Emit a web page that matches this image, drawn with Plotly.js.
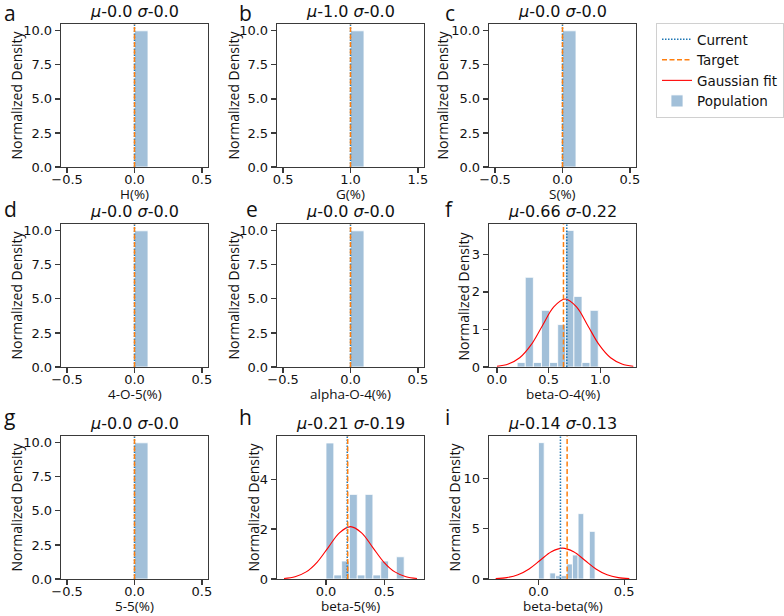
<!DOCTYPE html>
<html>
<head>
<meta charset="utf-8">
<script src="https://cdn.plot.ly/plotly-3.0.1.min.js"></script>
<style>
  html, body { margin: 0; padding: 0; background: #fff; }
  #chart { width: 784px; height: 616px; }
</style>
</head>
<body>
<div id="chart"></div>
<script>
(function () {
  'use strict';

  // パネルごとのデータ
  const panelLetters = ['a', 'b', 'c', 'd', 'e', 'f', 'g', 'h', 'i'];
  const xLabels = ['H(%)', 'G(%)', 'S(%)', '4-O-5(%)', 'alpha-O-4(%)', 'beta-O-4(%)', '5-5(%)', 'beta-5(%)', 'beta-beta(%)'];
  const muText = ['0.0', '1.0', '0.0', '0.0', '0.0', '0.66', '0.0', '0.21', '0.14'];
  const sigmaText = ['0.0', '0.0', '0.0', '0.0', '0.0', '0.22', '0.0', '0.19', '0.13'];

  const currentVals = [0, 1.0, 0, 0, 0, 0.676, 0, 0.182, 0.128];
  const targetVals = [0, 1.0, 0, 0, 0, 0.644, 0, 0.186, 0.167];

  // ヒストグラム: 先頭ビンの左端・ビン幅・密度
  const binStart = [0, 1.0, 0, 0, 0, 0.1955, 0, 0.0, 0.0];
  const binWidth = [0.1, 0.1, 0.1, 0.1, 0.1, 0.0785, 0.1, 0.067, 0.033];
  const densF = [0.12, 2.39, 0.12, 1.51, 0.12, 1.13, 3.64, 1.88, 0.12, 1.51];
  const densH = [5.45, 0.16, 0.72, 3.39, 0.16, 3.39, 0.16, 0.72, 0, 0.89];
  const densI = [13.54, 0, 0.6, 0.33, 0.33, 1.49, 2.38, 6.49, 0, 4.73];
  const binHeights = [[10], [10], [10], [10], [10], densF, [10], densH, densI];

  // ガウスフィット曲線（図から読み取った点）
  const fitXF = [0.0, 0.11, 0.22, 0.33, 0.44, 0.55, 0.66, 0.77, 0.88, 0.99, 1.10, 1.21, 1.32];
  const fitYF = [0.02, 0.08, 0.245, 0.588, 1.10, 1.60, 1.81, 1.60, 1.10, 0.588, 0.245, 0.08, 0.02];
  const fitXH = [-0.36, -0.265, -0.17, -0.075, 0.02, 0.115, 0.21, 0.305, 0.40, 0.495, 0.59, 0.685, 0.78];
  const fitYH = [0.023, 0.092, 0.284, 0.68, 1.27, 1.85, 2.10, 1.85, 1.27, 0.68, 0.284, 0.092, 0.023];
  const fitXI = [-0.25, -0.185, -0.12, -0.055, 0.01, 0.075, 0.14, 0.205, 0.27, 0.335, 0.40, 0.465, 0.53];
  const fitYI = [0.034, 0.135, 0.415, 0.997, 1.86, 2.71, 3.07, 2.71, 1.86, 0.997, 0.415, 0.135, 0.034];
  const fits = { 5: [fitXF, fitYF], 7: [fitXH, fitYH], 8: [fitXI, fitYI] };

  // 軸レンジ・目盛り
  const xRanges = [[-0.545, 0.545], [0.455, 1.545], [-0.545, 0.545], [-0.545, 0.545], [-0.545, 0.545],
    [-0.077, 1.346], [-0.545, 0.545], [-0.42, 0.84], [-0.289, 0.569]];
  const yRanges = [[0, 10.5], [0, 10.5], [0, 10.5], [0, 10.5], [0, 10.5], [0, 3.81], [0, 10.5], [0, 5.73], [0, 14.2]];
  const yDtick = [2.5, 2.5, 2.5, 2.5, 2.5, 1, 2.5, 2, 5];
  const yFormat = ['.1f', '.1f', '.1f', '.1f', '.1f', 'd', '.1f', 'd', 'd'];

  // レイアウト（ピクセル）
  const W = 784, H = 616;
  const colLeft = [61, 277, 489];
  const rowTop = [24, 224, 436];
  const plotW = 147, plotH = 143;
  const letterPos = [[2, 13], [237, 13], [443, 13], [2, 209], [244, 209], [443, 209], [2, 417], [237, 417], [443, 417]];
  const yTitleGap = [45, 44, 47, 45, 44, 26, 45, 24, 35];

  const BAR_COLOR = 'rgba(70,130,180,0.5)';
  const FRAME = '#3a3a3a';

  const data = [];
  const layout = {
    width: W, height: H,
    margin: { l: 0, r: 0, t: 0, b: 0 },
    paper_bgcolor: '#fff', plot_bgcolor: '#fff',
    showlegend: true,
    legend: {
      x: 656 / W, y: 1 - 23 / H, xanchor: 'left', yanchor: 'top',
      bgcolor: '#fff', bordercolor: '#d0d0d0', borderwidth: 1,
      font: { family: 'DejaVu Sans', size: 13.5, color: '#111' },
      tracegroupgap: 0
    },
    annotations: [],
    bargap: 0
  };

  function ann(x, y, text, opts) {
    layout.annotations.push(Object.assign({
      xref: 'paper', yref: 'paper', x: x / W, y: 1 - y / H,
      showarrow: false, text: text
    }, opts));
  }

  for (let p = 0; p < 9; p++) {
    const n = p + 1;
    const xa = 'x' + (n === 1 ? '' : n), ya = 'y' + (n === 1 ? '' : n);
    const col = p % 3, row = Math.floor(p / 3);
    const left = colLeft[col], top = rowTop[row];
    const isLegend = p === 5;

    // ヒストグラム棒
    const heights = binHeights[p];
    const edges = heights.map((_, k) => binStart[p] + k * binWidth[p]);
    data.push({
      type: 'bar', x: edges, y: heights, width: binWidth[p], offset: 0,
      xaxis: xa, yaxis: ya,
      marker: { color: BAR_COLOR, line: { color: '#fff', width: 0.8 } },
      name: 'Population', showlegend: isLegend, legendrank: 4, hoverinfo: 'skip'
    });

    if (fits[p]) {
      data.push({
        type: 'scatter', mode: 'lines', x: fits[p][0], y: fits[p][1],
        xaxis: xa, yaxis: ya,
        line: { color: '#ff0000', width: 1.1, shape: 'spline', smoothing: 1 },
        name: 'Gaussian fit', showlegend: isLegend, legendrank: 3, hoverinfo: 'skip'
      });
    }

    const yTop = yRanges[p][1] * 2;
    data.push({
      type: 'scatter', mode: 'lines', x: [currentVals[p], currentVals[p]], y: [0, yTop],
      xaxis: xa, yaxis: ya,
      line: { color: '#1f77b4', width: 1.5, dash: '1.5px,1.5px' },
      name: 'Current', showlegend: isLegend, legendrank: 1, hoverinfo: 'skip'
    });
    data.push({
      type: 'scatter', mode: 'lines', x: [targetVals[p], targetVals[p]], y: [0, yTop],
      xaxis: xa, yaxis: ya,
      line: { color: '#ff7f0e', width: 1.5, dash: '5px,2.5px' },
      name: 'Target', showlegend: isLegend, legendrank: 2, hoverinfo: 'skip'
    });

    const axisCommon = {
      showline: true, mirror: true, linecolor: FRAME, linewidth: 1.3,
      ticks: 'outside', ticklen: 5, tickwidth: 1.2, tickcolor: FRAME,
      showgrid: false, zeroline: false,
      tickfont: { family: 'DejaVu Sans', size: 13, color: '#111' },
      fixedrange: true
    };

    layout['xaxis' + (n === 1 ? '' : n)] = Object.assign({}, axisCommon, {
      domain: [left / W, (left + plotW) / W],
      anchor: ya, ticklabelstandoff: -5,
      range: xRanges[p], dtick: 0.5, tick0: 0, tickformat: '.1f'
    });
    layout['yaxis' + (n === 1 ? '' : n)] = Object.assign({}, axisCommon, {
      domain: [1 - (top + plotH) / H, 1 - top / H],
      anchor: xa,
      range: yRanges[p], dtick: yDtick[p], tick0: 0, tickformat: yFormat[p]
    });

    // 軸タイトル
    ann(left + plotW / 2, top + plotH + 27, xLabels[p], {
      xanchor: 'center', yanchor: 'middle', borderpad: 0,
      font: { family: 'Open Sans', size: 13.5, color: '#111' }
    });
    ann(left - yTitleGap[p], top + plotH / 2, 'Normalized Density', {
      xanchor: 'center', yanchor: 'middle', textangle: -90,
      font: { family: 'Open Sans', size: 14, color: '#111' }
    });

    // タイトル μ σ
    ann(left + plotW / 2, top - 1, '<i>μ</i>-' + muText[p] + ' <i>σ</i>-' + sigmaText[p], {
      xanchor: 'center', yanchor: 'bottom',
      font: { family: 'DejaVu Sans', size: 16, color: '#111' }
    });

    // パネル記号
    ann(letterPos[p][0], letterPos[p][1], panelLetters[p], {
      xanchor: 'left', yanchor: 'middle',
      font: { family: 'Open Sans', size: 21, color: '#111' }
    });
  }

  Plotly.newPlot('chart', data, layout, { displayModeBar: false, staticPlot: true });
})();
</script>
</body>
</html>
